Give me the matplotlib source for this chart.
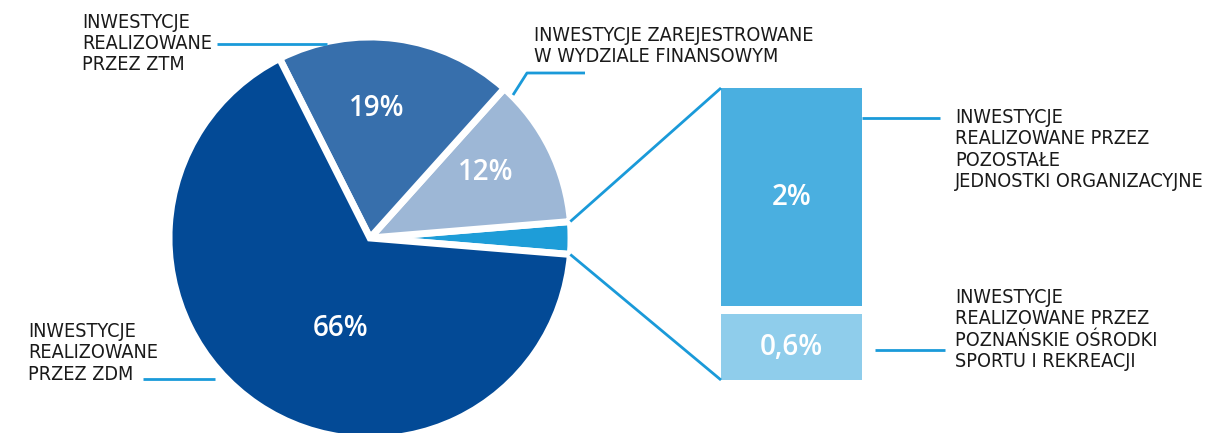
import matplotlib
matplotlib.use('Agg')
import matplotlib.pyplot as plt
import numpy as np

# pie shares (the small slice is broken out into the bar on the right)
pie_labels = ['2,6%', '12%', '19%', '66%']
pie_values = [2.6, 12, 19, 66]
pie_colors = ['#1e9dd8', '#9db7d6', '#376fac', '#034a96']
pie_explode = [0, 4, 3, 0]

bar_labels = ['0,6%', '2%']
bar_values = [0.6, 2]
bar_colors = ['#8fcdeb', '#4aafe0']

W, H = 1213, 433
line_col = '#1a9ad9'
text_col = '#1a1a1a'
pct_font = ['Open Sans', 'DejaVu Sans']

fig = plt.figure(figsize=(W / 100, H / 100), dpi=100)
ax = fig.add_axes([0, 0, 1, 1])
ax.set_xlim(0, W)
ax.set_ylim(0, H)
ax.axis('off')

# pie, small slice centred on the right horizontal
cx, cy, r = 370, 195, 201
start = -pie_values[0] / sum(pie_values) * 360 / 2
wedges, _ = ax.pie(pie_values, colors=pie_colors, startangle=start,
                   center=(cx, cy), radius=r, explode=np.array(pie_explode) / r,
                   wedgeprops=dict(edgecolor='white', linewidth=5))
ax.set_xlim(0, W)
ax.set_ylim(0, H)
ax.set_aspect('equal')

pct_pos = [None, (486, 433 - 172), (377, 433 - 108), (341, 433 - 328)]
for lab, pos in zip(pie_labels, pct_pos):
    if pos is None:
        continue
    ax.text(pos[0], pos[1], lab, color='white', fontsize=20, fontweight='semibold',
            family=pct_font, ha='center', va='center')

# stacked bar for the broken-out slice
bar_x, bar_w = 791.5, 141
bar_lo, bar_hi, gap = 53, 345, 8
scale = (bar_hi - bar_lo - gap) / sum(bar_values)
bottoms = [bar_lo, bar_lo + bar_values[0] * scale + gap]
for v, b, c, lab in zip(bar_values, bottoms, bar_colors, bar_labels):
    ax.bar(bar_x, v * scale, bottom=b, width=bar_w, color=c, linewidth=0)
    ax.text(bar_x, b + v * scale / 2, lab, color='white', fontsize=20,
            fontweight='semibold', family=pct_font, ha='center', va='center')

# connectors from the small slice to the bar
w0 = wedges[0]
for th, by in [(w0.theta2, bar_hi), (w0.theta1, bar_lo)]:
    px = cx + r * np.cos(np.radians(th))
    py = cy + r * np.sin(np.radians(th))
    ax.plot([px, bar_x - bar_w / 2], [py, by], color=line_col, lw=2,
            solid_capstyle='butt')

# leader lines
leaders = [
    ([217, 327], [389, 389]),
    ([513, 527, 585], [338, 360, 360]),
    ([143, 215], [54, 54]),
    ([862, 940], [315, 315]),
    ([875, 945], [83, 83]),
]
for xs, ys in leaders:
    ax.plot(xs, ys, color=line_col, lw=2, solid_capstyle='butt')

labels = [
    (82, 420, 'INWESTYCJE\nREALIZOWANE\nPRZEZ ZTM'),
    (534, 407, 'INWESTYCJE ZAREJESTROWANE\nW WYDZIALE FINANSOWYM'),
    (28, 111, 'INWESTYCJE\nREALIZOWANE\nPRZEZ ZDM'),
    (955, 325, 'INWESTYCJE\nREALIZOWANE PRZEZ\nPOZOSTAŁE\nJEDNOSTKI ORGANIZACYJNE'),
    (955, 145, 'INWESTYCJE\nREALIZOWANE PRZEZ\nPOZNAŃSKIE OŚRODKI\nSPORTU I REKREACJI'),
]
for x, y, t in labels:
    ax.text(x, y, t, color=text_col, fontsize=14.2, family='DejaVu Sans',
            fontstretch='condensed', ha='left', va='top', linespacing=1.15)

fig.savefig('out.png', dpi=100)
